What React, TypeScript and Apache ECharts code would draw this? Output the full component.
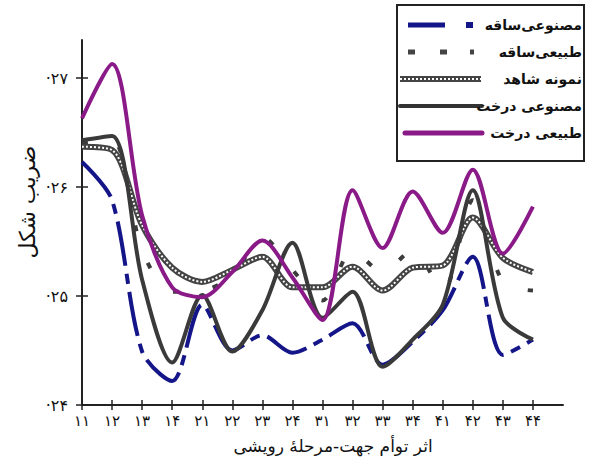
import React, { useEffect, useRef } from "react";
import * as echarts from "echarts";

// x categories (growth direction-stage), shown in Persian digits
const categoryLabels = ["۱۱", "۱۲", "۱۳", "۱۴", "۲۱", "۲۲", "۲۳", "۲۴", "۳۱", "۳۲", "۳۳", "۳۴", "۴۱", "۴۲", "۴۳", "۴۴"];

// y ticks
const yTickValues = [0.24, 0.25, 0.26, 0.27];
const yTickLabels = ["·۲۴", "·۲۵", "·۲۶", "·۲۷"];

// series names
const nameArtStem = "مصنوعی‌ساقه";
const nameNatStem = "طبیعی‌ساقه";
const nameControl = "نمونه شاهد";
const nameArtTree = "مصنوعی درخت";
const nameNatTree = "طبیعی درخت";

// values
const artStem = [0.2623, 0.2588, 0.2449, 0.2422, 0.2492, 0.245, 0.2464, 0.2448, 0.246, 0.2475, 0.2437, 0.2458, 0.2487, 0.2536, 0.2446, 0.246];
const natStem = [0.2641, 0.2643, 0.2542, 0.2504, 0.2505, 0.2519, 0.2554, 0.2524, 0.2496, 0.2542, 0.2522, 0.2542, 0.2505, 0.2588, 0.2513, 0.2505];
const control = [0.2637, 0.2634, 0.2565, 0.2526, 0.2513, 0.2524, 0.2536, 0.2508, 0.2508, 0.2527, 0.2505, 0.2526, 0.2528, 0.2572, 0.2535, 0.2522];
const artTree = [0.2643, 0.2647, 0.2515, 0.2439, 0.2501, 0.2449, 0.2487, 0.2549, 0.248, 0.2504, 0.2435, 0.246, 0.2492, 0.2597, 0.248, 0.246];
const natTree = [0.2663, 0.2713, 0.2574, 0.2508, 0.2499, 0.2522, 0.2551, 0.2517, 0.2478, 0.2597, 0.2544, 0.2596, 0.2558, 0.2616, 0.2539, 0.2582];

const FONT = '"DejaVu Sans", "Noto Sans", sans-serif';
const BLUE = "#15158a";
const PURPLE = "#8a1a88";
const DARK = "#3a3a3a";

export default function App() {
  const ref = useRef<HTMLDivElement>(null);

  useEffect(() => {
    if (!ref.current) return;
    const chart = echarts.init(ref.current, null, { renderer: "svg" });
    const xData = [...categoryLabels, ""];
    const smooth = 0.3;
    const legendRows = [25, 52, 79, 106, 133];
    const legendNames = [nameArtStem, nameNatStem, nameControl, nameArtTree, nameNatTree];

    const yFormatter = (v: number) => {
      const i = yTickValues.findIndex((t) => Math.abs(t - v) < 1e-6);
      return i >= 0 ? yTickLabels[i] : "";
    };

    const graphics: any[] = [
      {
        type: "rect",
        z: 100,
        shape: { x: 397, y: 5, width: 187, height: 156 },
        style: { fill: "#fff", stroke: "#222", lineWidth: 2 },
      },
      // row 1: artificial stem
      { type: "line", z: 101, shape: { x1: 408, y1: legendRows[0], x2: 445, y2: legendRows[0] }, style: { stroke: BLUE, lineWidth: 5 } },
      { type: "rect", z: 101, shape: { x: 466, y: legendRows[0] - 3, width: 7, height: 6 }, style: { fill: BLUE } },
      // row 2: natural stem
      { type: "rect", z: 101, shape: { x: 408, y: legendRows[1] - 2.5, width: 7, height: 5 }, style: { fill: "#444" } },
      { type: "rect", z: 101, shape: { x: 440, y: legendRows[1] - 2.5, width: 7, height: 5 }, style: { fill: "#444" } },
      { type: "rect", z: 101, shape: { x: 470, y: legendRows[1] - 2.5, width: 4, height: 5 }, style: { fill: "#444" } },
      // row 3: control (chain)
      { type: "line", z: 101, shape: { x1: 400, y1: legendRows[2], x2: 481, y2: legendRows[2] }, style: { stroke: "#444", lineWidth: 6 } },
      { type: "line", z: 102, shape: { x1: 400, y1: legendRows[2], x2: 481, y2: legendRows[2] }, style: { stroke: "#fff", lineWidth: 2, lineDash: [2, 2] } },
      // row 4: artificial tree
      { type: "line", z: 101, shape: { x1: 400, y1: legendRows[3], x2: 482, y2: legendRows[3] }, style: { stroke: "#333", lineWidth: 4, lineCap: "round" } },
      // row 5: natural tree
      { type: "line", z: 101, shape: { x1: 405, y1: legendRows[4], x2: 482, y2: legendRows[4] }, style: { stroke: PURPLE, lineWidth: 5, lineCap: "round" } },
      ...legendNames.map((n, i) => ({
        type: "text",
        z: 103,
        x: 582,
        y: legendRows[i],
        style: { text: n, font: `bold 14px ${FONT}`, fill: "#111", align: "right", verticalAlign: "middle" },
      })),
      {
        type: "text",
        x: 27,
        y: 202,
        rotation: Math.PI / 2,
        style: { text: "ضریب شکل", font: `22px ${FONT}`, fill: "#111", align: "center", verticalAlign: "middle" },
      },
      {
        type: "text",
        x: 333,
        y: 446,
        style: { text: "اثر توأم جهت-مرحلهٔ رویشی", font: `17px ${FONT}`, fill: "#111", align: "center", verticalAlign: "middle" },
      },
    ];

    const lineSeries = (name: string, data: number[], lineStyle: any, z = 2) => ({
      type: "line",
      name,
      data,
      xAxisIndex: 0,
      yAxisIndex: 0,
      smooth,
      symbol: "none",
      z,
      lineStyle,
    });

    chart.setOption({
      animation: false,
      backgroundColor: "#fff",
      grid: { left: 82, right: 27, top: 40, bottom: 56 },
      xAxis: [
        {
          type: "category",
          data: xData,
          position: "bottom",
          boundaryGap: false,
          axisLine: { show: true, lineStyle: { color: "#222", width: 2 } },
          axisTick: { show: true, length: 5, interval: (i: number) => i < 16, lineStyle: { color: "#222", width: 1.5 } },
          axisLabel: { interval: 0, margin: 8, fontSize: 15, color: "#111", fontFamily: FONT },
          splitLine: { show: false },
        },
        {
          type: "category",
          data: xData,
          position: "bottom",
          boundaryGap: false,
          axisLine: { show: false },
          axisTick: { show: true, inside: true, length: 5, interval: (i: number) => i < 16, lineStyle: { color: "#222", width: 1.5 } },
          axisLabel: { show: false },
          splitLine: { show: false },
        },
      ],
      yAxis: [
        {
          type: "value",
          position: "left",
          min: 0.24,
          max: 0.2735,
          interval: 0.01,
          axisLine: { show: true, lineStyle: { color: "#222", width: 2 } },
          axisTick: { show: true, length: 6, customValues: yTickValues, lineStyle: { color: "#222", width: 1.5 } },
          axisLabel: { margin: 14, fontSize: 16, color: "#111", fontFamily: FONT, customValues: yTickValues, formatter: yFormatter },
          splitLine: { show: false },
        },
        {
          type: "value",
          position: "left",
          min: 0.24,
          max: 0.2735,
          interval: 0.01,
          axisLine: { show: false },
          axisTick: { show: true, inside: true, length: 6, customValues: yTickValues, lineStyle: { color: "#222", width: 1.5 } },
          axisLabel: { show: false },
          splitLine: { show: false },
        },
      ],
      graphic: graphics,
      series: [
        lineSeries(nameNatStem, natStem, { color: "#3c3c3c", width: 4, type: [6, 34] }, 2),
        lineSeries(nameControl, control, { color: "#444", width: 6 }, 3),
        { ...lineSeries(nameControl + " ", control, { color: "#fff", width: 2, type: [2, 2] }, 4), silent: true },
        lineSeries(nameArtStem, artStem, { color: BLUE, width: 4, type: [45, 8, 10, 8] }, 5),
        lineSeries(nameArtTree, artTree, { color: DARK, width: 4 }, 6),
        lineSeries(nameNatTree, natTree, { color: PURPLE, width: 4 }, 7),
      ],
    });

    return () => chart.dispose();
  }, []);

  return (
    <div
      ref={ref}
      style={{ position: "fixed", left: 0, top: 0, width: 590, height: 461, background: "#fff" }}
    />
  );
}
